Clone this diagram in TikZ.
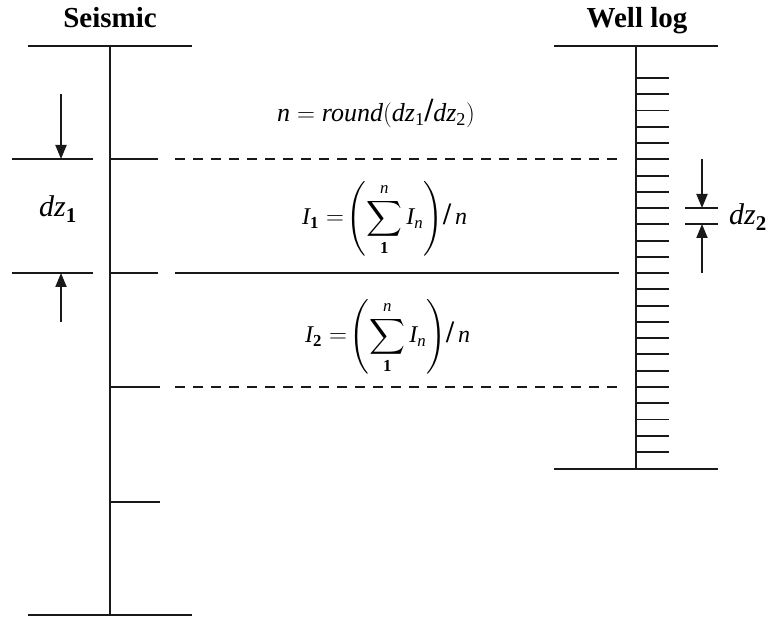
\documentclass[tikz,border=0pt]{standalone}
\usepackage{amsmath}
\usepackage{fontspec}
\setmainfont{Liberation Serif}
\usetikzlibrary{arrows.meta}
\newcommand{\vit}[1]{\text{\itshape #1}}
\newcommand{\vbf}[1]{\text{\bfseries #1}}
\newcommand{\bslash}{\text{\scalebox{1.2}[1.3]{\bfseries /}}}
\begin{document}
\begin{tikzpicture}[x=1pt,y=-1pt,
  ln/.style={line width=1.9pt, black!90},
  dsh/.style={ln, dash pattern=on 10pt off 8pt},
  arr/.style={ln, -{Triangle[length=14pt,width=11pt]}},
  hdr/.style={font=\fontsize{29}{33}\selectfont\bfseries, anchor=base, inner sep=0pt},
  lbl/.style={font=\fontsize{30}{34}\selectfont, anchor=base west, inner sep=0pt},
  frm/.style={font=\fontsize{24}{28}\selectfont, anchor=base west, inner sep=0pt}]
\useasboundingbox (0,0) rectangle (772,617);
\clip (0,0) rectangle (772,617);
% seismic column
\coordinate (st) at (110,46);
\coordinate (sb) at (110,615);
\draw[ln] (st) -- (sb);
\draw[ln] (28,46) -- (192,46);
\draw[ln] (28,615) -- (192,615);
\foreach \yy/\xe in {159/158,273/158,387/160,502/160} \draw[ln] (110,\yy) -- (\xe,\yy);
\draw[ln] (12,159) -- (93,159);
\draw[ln] (12,273) -- (93,273);
\coordinate (a1s) at (61,94); \coordinate (a1e) at (61,159);
\coordinate (a2s) at (61,322); \coordinate (a2e) at (61,273);
\draw[arr] (a1s) -- (a1e);
\draw[arr] (a2s) -- (a2e);
% horizons
\draw[dsh] (175,159) -- (620,159);
\draw[ln] (175,273) -- (619,273);
\draw[dsh] (175,387) -- (622,387);
% well log column
\coordinate (wt) at (636,46);
\coordinate (wb) at (636,469);
\draw[ln] (wt) -- (wb);
\draw[ln] (554,46) -- (718,46);
\draw[ln] (554,469) -- (718,469);
\foreach \i in {0,...,23} \draw[ln] (636,78+\i*16.26) -- (669,78+\i*16.26);
\draw[ln] (685,208) -- (718,208);
\draw[ln] (685,224) -- (718,224);
\coordinate (b1s) at (702,159); \coordinate (b1e) at (702,208);
\coordinate (b2s) at (702,273); \coordinate (b2e) at (702,224);
\draw[arr] (b1s) -- (b1e);
\draw[arr] (b2s) -- (b2e);
% texts
\node[hdr] (hs) at (110,28) {Seismic};
\node[hdr] (hw) at (637,28) {Well log};
\node[lbl] (dz1) at (39,217) {$\vit{dz}_{\vbf{1}}$};
\node[lbl] (dz2) at (729,225) {$\vit{dz}_{\vbf{2}}$};
\node[frm, font=\fontsize{26}{30}\selectfont] (nr) at (277,122) {$\vit{n} = \vit{round}(\vit{dz}_{\text{1}}\bslash\vit{dz}_{\text{2}})$};
\node[frm] (i1) at (302,225) {$\displaystyle\vit{I}_{\vbf{1}} =\!\left(\sum_{\vbf{1}}^{\vit{n}} \vit{I}_{\vit{n}}\right)\!\bslash\, \vit{n}$};
\node[frm] (i2) at (305,343) {$\displaystyle\vit{I}_{\vbf{2}} =\!\left(\sum_{\vbf{1}}^{\vit{n}} \vit{I}_{\vit{n}}\right)\!\bslash\, \vit{n}$};
\end{tikzpicture}
\end{document}
